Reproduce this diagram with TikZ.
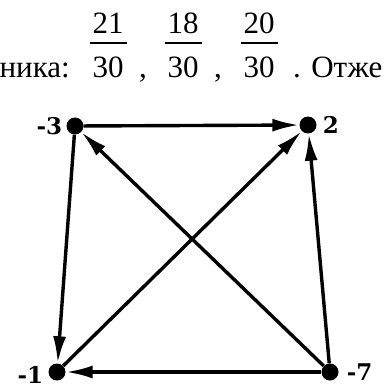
\documentclass[tikz,border=0pt]{standalone}
\usepackage{fontspec}
\setmainfont{Liberation Serif}
\newfontfamily\lblfont{DejaVu Serif}
\usepackage{tikz}
\usetikzlibrary{arrows.meta,positioning}

\begin{document}
\begin{tikzpicture}[
    x=1pt, y=-1pt,
    txt/.style={inner sep=0pt, anchor=base, font=\fontsize{31}{36}\selectfont},
    bar/.style={line width=1.5pt},
    dot/.style={circle, fill, inner sep=0pt, minimum size=17pt},
    lbl/.style={inner sep=0pt, font=\fontsize{23}{26}\selectfont\lblfont\bfseries},
    arr/.style={-{Latex[length=27pt, width=13pt]}, line width=3.4pt}
]
\useasboundingbox (0,0) rectangle (384,390);
\clip (0,0) rectangle (384,390);
% line of text above the graph
\node[txt, anchor=base east] (pre) at (70,78) {ника:};
\node[txt] (n1) at (108,34) {21};
\node[txt] (d1) at (108,78) {30};
\node[txt] (c1) at (143,78) {,};
\node[txt] (n2) at (183,34) {18};
\node[txt] (d2) at (183,78) {30};
\node[txt] (c2) at (218,78) {,};
\node[txt] (n3) at (259,34) {20};
\node[txt] (d3) at (259,78) {30};
\node[txt, anchor=base west] (post) at (293,78) {. Отже};
\foreach \x in {108,183,259}
    \draw[bar] (\x-18.5,43) -- (\x+18.5,43);
% graph
\node[dot] (v3) at (75,126) {};
\node[dot] (v2) at (308,125) {};
\node[dot] (v1) at (57,372) {};
\node[dot] (v7) at (330,372) {};
\node[lbl, left=4pt of v3] (l3) {-3};
\node[lbl, right=6pt of v2] (l2) {2};
\node[lbl, left=5pt of v1, yshift=-3pt] (l1) {-1};
\node[lbl, right=8pt of v7] (l7) {-7};
\draw[arr] (v3) -- (v2);
\draw[arr] (v3) -- (v1);
\draw[arr] (v7) -- (v3);
\draw[arr] (v1) -- (v2);
\draw[arr] (v7) -- (v2);
\draw[arr] (v7) -- (v1);
\end{tikzpicture}
\end{document}
